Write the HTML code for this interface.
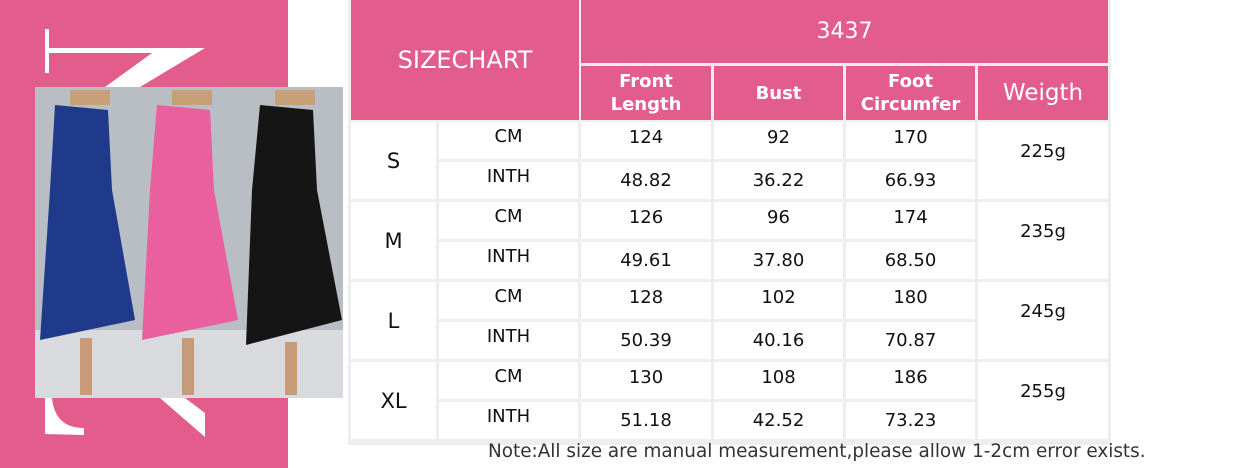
<!DOCTYPE html>
<html><head><meta charset="utf-8"><style>
body{margin:0;width:1248px;height:468px;background:#fff;position:relative;overflow:hidden;font-family:"DejaVu Sans","Liberation Sans",sans-serif}
.c{position:absolute;display:flex;align-items:center;justify-content:center;text-align:center;box-sizing:border-box}
.p{background:#e25c8c;color:#fff}
.w{background:#fff;color:#111;font-size:18px}
</style></head><body>
<div style="position:absolute;left:0;top:0;width:288px;height:468px;background:#e25c8c"></div>
<svg style="position:absolute;left:0;top:0" width="360" height="468">
<rect x="45" y="29" width="4" height="44" fill="#fff"/>
<rect x="49" y="48" width="110" height="5" fill="#fff"/>
<polygon points="159,48 205,48 140,87 105,87" fill="#fff"/>
<path d="M45 398 L52 398 Q55 428 84 428 L84 435 L45 434 Z" fill="#fff"/>
<polygon points="160,398 185,398 205,413 205,437" fill="#fff"/>
<rect x="35" y="87" width="308" height="311" fill="#b9bdc4"/>
<rect x="35" y="330" width="308" height="68" fill="#d8dadd"/>
<path d="M55 105 L108 110 L112 190 L135 320 L40 340 L50 190 Z" fill="#1f3a8a"/>
<path d="M157 105 L210 110 L214 190 L238 320 L142 340 L150 190 Z" fill="#ea5f9e"/>
<path d="M260 105 L313 110 L317 190 L342 320 L246 345 L252 190 Z" fill="#151515"/>
<rect x="70" y="90" width="40" height="15" fill="#c8a078"/>
<rect x="172" y="90" width="40" height="15" fill="#c8a078"/>
<rect x="275" y="90" width="40" height="15" fill="#c8a078"/>
<rect x="80" y="338" width="12" height="57" fill="#c79a78"/>
<rect x="182" y="338" width="12" height="57" fill="#c79a78"/>
<rect x="285" y="342" width="12" height="53" fill="#c79a78"/>
</svg>
<div style="position:absolute;left:348px;top:0;width:763px;height:445px;background:#eeeeee"></div>
<div class="c p" style="left:351px;top:0;width:228px;height:120px;font-size:24px">SIZECHART</div>
<div class="c p" style="left:581px;top:0;width:527px;height:63px;font-size:22px">3437</div>
<div class="c p" style="left:581px;top:66px;width:130px;height:54px;font-size:18px;font-weight:bold;line-height:23px">Front<br>Length</div>
<div class="c p" style="left:714px;top:66px;width:129px;height:54px;font-size:18px;font-weight:bold">Bust</div>
<div class="c p" style="left:846px;top:66px;width:129px;height:54px;font-size:18px;font-weight:bold;line-height:23px">Foot<br>Circumfer</div>
<div class="c p" style="left:978px;top:66px;width:130px;height:54px;font-size:23px">Weigth</div>
<div id="rows"></div>
<div style="position:absolute;left:488px;top:441px;font-size:18.4px;color:#333;white-space:nowrap">Note:All size are manual measurement,please allow 1-2cm error exists.</div>
<script>
var d=[["S","124","92","170","48.82","36.22","66.93","225g"],["M","126","96","174","49.61","37.80","68.50","235g"],["L","128","102","180","50.39","40.16","70.87","245g"],["XL","130","108","186","51.18","42.52","73.23","255g"]];
var cx=[[581,130],[714,129],[846,129]],h="";
d.forEach(function(r,i){var y=122+i*80;
h+='<div class="c w" style="left:351px;top:'+y+'px;width:85px;height:77px;font-size:21px">'+r[0]+'</div>';
h+='<div class="c w" style="left:439px;top:'+y+'px;width:139px;height:37px;padding-bottom:8px">CM</div>';
h+='<div class="c w" style="left:439px;top:'+(y+40)+'px;width:139px;height:37px;padding-bottom:8px">INTH</div>';
for(var k=0;k<3;k++){h+='<div class="c w" style="left:'+cx[k][0]+'px;top:'+y+'px;width:'+cx[k][1]+'px;height:37px;padding-bottom:6px">'+r[1+k]+'</div>';
h+='<div class="c w" style="left:'+cx[k][0]+'px;top:'+(y+40)+'px;width:'+cx[k][1]+'px;height:37px">'+r[4+k]+'</div>';}
h+='<div class="c w" style="left:978px;top:'+y+'px;width:130px;height:77px;padding-bottom:18px">'+r[7]+'</div>';});
document.getElementById('rows').innerHTML=h;
</script>
</body></html>
